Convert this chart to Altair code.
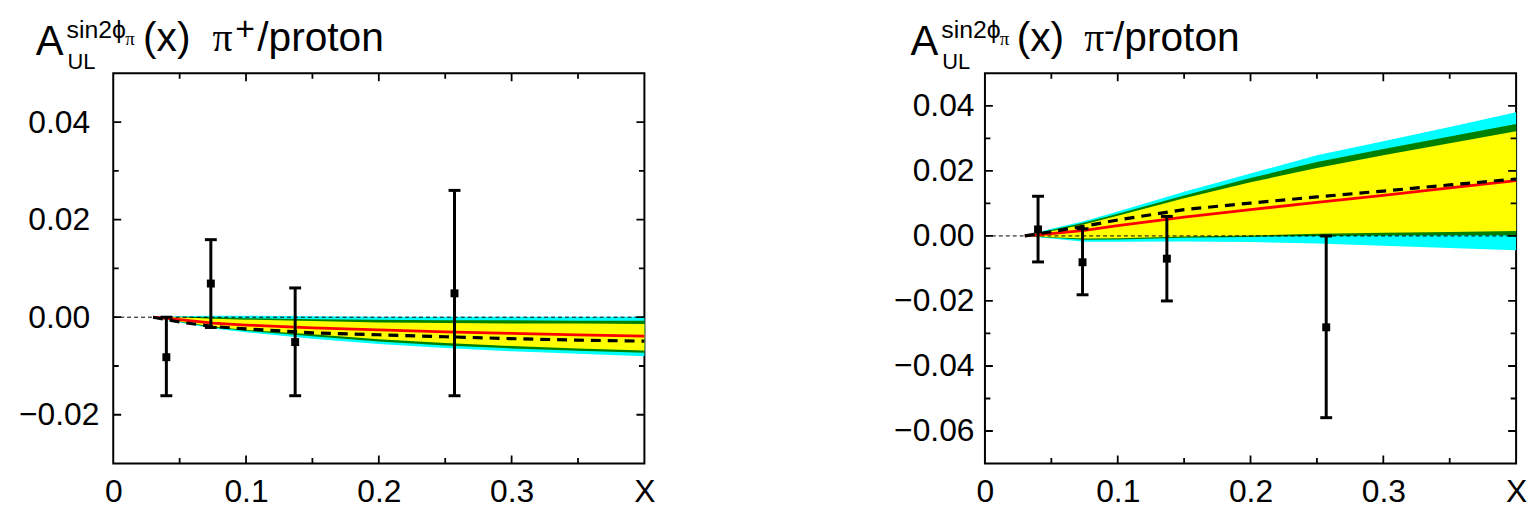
import altair as alt
import pandas as pd

# ---------------- data ----------------
x_grid = [0.03, 0.05, 0.075, 0.10, 0.15, 0.20, 0.25, 0.30, 0.35, 0.40]

# pi+ / proton
p_red      = [0, -0.0005, -0.0012, -0.0016, -0.0022, -0.0026, -0.0030, -0.0033, -0.0036, -0.0039]
p_dash     = [0, -0.0010, -0.0019, -0.0024, -0.0032, -0.0036, -0.0040, -0.0044, -0.0047, -0.0049]
p_cyan_hi  = [0, 0.0002, 0.0003, 0.0003, 0.0002, 0.0001, 0.0001, 0.0001, 0.0001, 0.0001]
p_cyan_lo  = [0, -0.0011, -0.0023, -0.0031, -0.0044, -0.0055, -0.0063, -0.0070, -0.0075, -0.0080]
p_green_hi = [0, 0.0001, 0.0000, -0.0002, -0.0004, -0.0005, -0.0006, -0.0006, -0.0007, -0.0007]
p_green_lo = [0, -0.0010, -0.0021, -0.0028, -0.0039, -0.0050, -0.0058, -0.0064, -0.0069, -0.0073]
p_yel_hi   = [0, 0.0000, -0.0003, -0.0005, -0.0008, -0.0011, -0.0012, -0.0013, -0.0013, -0.0014]
p_yel_lo   = [0, -0.0009, -0.0019, -0.0026, -0.0035, -0.0045, -0.0053, -0.0059, -0.0064, -0.0068]

p_px = [0.040, 0.0735, 0.137, 0.257]
p_py = [-0.0082, 0.0069, -0.0051, 0.0049]
p_lo = [-0.0161, -0.0021, -0.0161, -0.0161]
p_hi = [0.0000, 0.0159, 0.0060, 0.0260]

# pi- / proton
m_red      = [0, 0.0007, 0.0017, 0.0032, 0.0058, 0.0081, 0.0103, 0.0125, 0.0148, 0.0170]
m_dash     = [0, 0.0013, 0.0030, 0.0049, 0.0081, 0.0101, 0.0120, 0.0138, 0.0157, 0.0175]
m_cyan_hi  = [0, 0.0022, 0.0046, 0.0075, 0.0136, 0.0192, 0.0248, 0.0291, 0.0335, 0.0380]
m_green_hi = [0, 0.0018, 0.0041, 0.0068, 0.0124, 0.0178, 0.0227, 0.0267, 0.0306, 0.0344]
m_yel_hi   = [0, 0.0014, 0.0036, 0.0062, 0.0116, 0.0165, 0.0209, 0.0248, 0.0285, 0.0322]
m_yel_lo   = [0, -0.0004, -0.0008, -0.0007, -0.0002, 0.0001, 0.0007, 0.0010, 0.0012, 0.0015]
m_green_lo = [0, -0.0006, -0.0012, -0.0011, -0.0006, -0.0003, 0.0000, 0.0001, 0.0002, 0.0002]
m_cyan_lo  = [0, -0.0008, -0.0018, -0.0018, -0.0017, -0.0019, -0.0023, -0.0030, -0.0037, -0.0044]

m_px = [0.040, 0.0735, 0.137, 0.257]
m_py = [0.0020, -0.0081, -0.0070, -0.0281]
m_lo = [-0.0080, -0.0181, -0.0200, -0.0559]
m_hi = [0.0122, 0.0022, 0.0060, 0.0000]

zero_x = [0.0, 0.4]
zero_y = [0.0, 0.0]

x_major = [0.1, 0.2, 0.3]
x_minor = [0.05, 0.15, 0.25, 0.35]
x_labels = [0, 0.1, 0.2, 0.3, 0.4]

p_y_major = [-0.02, 0.0, 0.02, 0.04]
p_y_minor = [-0.01, 0.01, 0.03]
m_y_major = [-0.06, -0.04, -0.02, 0.0, 0.02, 0.04]
m_y_minor = [-0.05, -0.03, -0.01, 0.01, 0.03]

W, H = 535, 393
SANS = "Liberation Sans"
SERIF = "Liberation Serif"


def panel(curves, pts, ydom, ymajor, yminor, label_align, label_pad, title_pieces):
    xs = alt.Scale(domain=[0, 0.4], nice=False, zero=False)
    ys = alt.Scale(domain=ydom, nice=False, zero=False)
    xaxis = alt.Axis(values=x_labels, ticks=False, tickSize=0, domain=False, grid=False,
                     labelExpr="datum.value == 0 ? '0' : (datum.value > 0.39 ? 'X' : format(datum.value, '.1f'))",
                     labelFont=SANS, labelFontSize=32, labelColor="black", labelPadding=13,
                     labelFlush=False, labelOverlap=False, title=None)
    yaxis = alt.Axis(values=ymajor, ticks=False, tickSize=0, domain=False, grid=False,
                     format=".2f", labelFont=SANS, labelFontSize=32, labelColor="black",
                     labelAlign=label_align, labelPadding=label_pad,
                     labelFlush=False, labelOverlap=False, title=None)

    def X(f):
        return alt.X(f, type="quantitative", scale=xs, axis=xaxis)

    def Y(f):
        return alt.Y(f, type="quantitative", scale=ys, axis=yaxis)

    df = pd.DataFrame(curves)
    base = alt.Chart(df)
    layers = [
        base.mark_area(color="#00ffff", opacity=1).encode(x=X("x"), y=Y("cyan_lo"), y2="cyan_hi"),
        base.mark_area(color="#008000", opacity=1).encode(x=X("x"), y=Y("green_lo"), y2="green_hi"),
        base.mark_area(color="#ffff00", opacity=1).encode(x=X("x"), y=Y("yel_lo"), y2="yel_hi"),
    ]
    zdf = pd.DataFrame({"x": zero_x, "y": zero_y})
    layers.append(alt.Chart(zdf).mark_line(color="black", strokeWidth=1, strokeDash=[4, 3])
                  .encode(x=X("x"), y=Y("y")))
    layers.append(base.mark_line(color="#ff0000", strokeWidth=2.8).encode(x=X("x"), y=Y("red")))
    layers.append(base.mark_line(color="black", strokeWidth=3.2, strokeDash=[10, 7])
                  .encode(x=X("x"), y=Y("dash")))

    pdf = pd.DataFrame(pts)
    pb = alt.Chart(pdf)
    layers += [
        pb.mark_rule(color="black", strokeWidth=3).encode(x=X("x"), y=Y("lo"), y2="hi"),
        pb.mark_tick(color="black", orient="horizontal", size=12, thickness=3, opacity=1)
          .encode(x=X("x"), y=Y("lo")),
        pb.mark_tick(color="black", orient="horizontal", size=12, thickness=3, opacity=1)
          .encode(x=X("x"), y=Y("hi")),
        pb.mark_square(color="black", size=64, opacity=1).encode(x=X("x"), y=Y("y")),
    ]

    # inward ticks
    xmaj = alt.Chart(pd.DataFrame({"t": x_major}))
    xmin = alt.Chart(pd.DataFrame({"t": x_minor}))
    ymaj = alt.Chart(pd.DataFrame({"t": ymajor}))
    ymin = alt.Chart(pd.DataFrame({"t": yminor}))
    for c, sz in ((xmaj, 16), (xmin, 11)):
        for yv in (0, H):
            layers.append(c.mark_tick(color="black", orient="vertical", size=sz, thickness=1.8,
                                      clip=True, opacity=1)
                          .encode(x=X("t"), y=alt.value(yv)))
    for c, sz in ((ymaj, 16), (ymin, 11)):
        for xv in (0, W):
            layers.append(c.mark_tick(color="black", orient="horizontal", size=sz, thickness=1.8,
                                      clip=True, opacity=1)
                          .encode(y=Y("t"), x=alt.value(xv)))

    # composed title
    for txt, dx, dy, fs, font in title_pieces:
        layers.append(alt.Chart(pd.DataFrame({"s": [txt]}))
                      .mark_text(align="left", baseline="alphabetic", font=font, fontSize=fs,
                                 color="black")
                      .encode(text="s:N", x=alt.value(dx), y=alt.value(dy)))

    return alt.layer(*layers).properties(width=W, height=H)


left = panel(
    {"x": x_grid, "red": p_red, "dash": p_dash, "cyan_hi": p_cyan_hi, "cyan_lo": p_cyan_lo,
     "green_hi": p_green_hi, "green_lo": p_green_lo, "yel_hi": p_yel_hi, "yel_lo": p_yel_lo},
    {"x": p_px, "y": p_py, "lo": p_lo, "hi": p_hi},
    [-0.03, 0.05], p_y_major, p_y_minor, "center", 55,
    [("A", -78, -18, 42, SANS), ("sin2\u03d5", -47, -36, 25, SANS), ("\u03c0", 12, -29, 19, SERIF),
     ("UL", -46, -4, 22, SANS), ("(x)", 30, -23, 41, SANS), ("\u03c0", 100, -23, 40, SERIF),
     ("+", 123, -34, 34, SANS), ("/proton", 145, -23, 41, SANS)],
)

right = panel(
    {"x": x_grid, "red": m_red, "dash": m_dash, "cyan_hi": m_cyan_hi, "cyan_lo": m_cyan_lo,
     "green_hi": m_green_hi, "green_lo": m_green_lo, "yel_hi": m_yel_hi, "yel_lo": m_yel_lo},
    {"x": m_px, "y": m_py, "lo": m_lo, "hi": m_hi},
    [-0.07, 0.05], m_y_major, m_y_minor, "right", 11,
    [("A", -75, -18, 42, SANS), ("sin2\u03d5", -44, -36, 25, SANS), ("\u03c0", 15, -29, 19, SERIF),
     ("UL", -43, -4, 22, SANS), ("(x)", 32, -23, 41, SANS), ("\u03c0", 100, -23, 40, SERIF),
     ("-", 120, -33, 32, SANS), ("/proton", 129, -23, 41, SANS)],
)

chart = (
    alt.hconcat(left, right, spacing=238)
    .properties(padding={"left": 9, "top": 2, "right": 2, "bottom": 2})
    .configure_view(stroke="black", strokeWidth=2)
)

chart.save("out.html", embed_options={"renderer": "svg", "actions": False})
